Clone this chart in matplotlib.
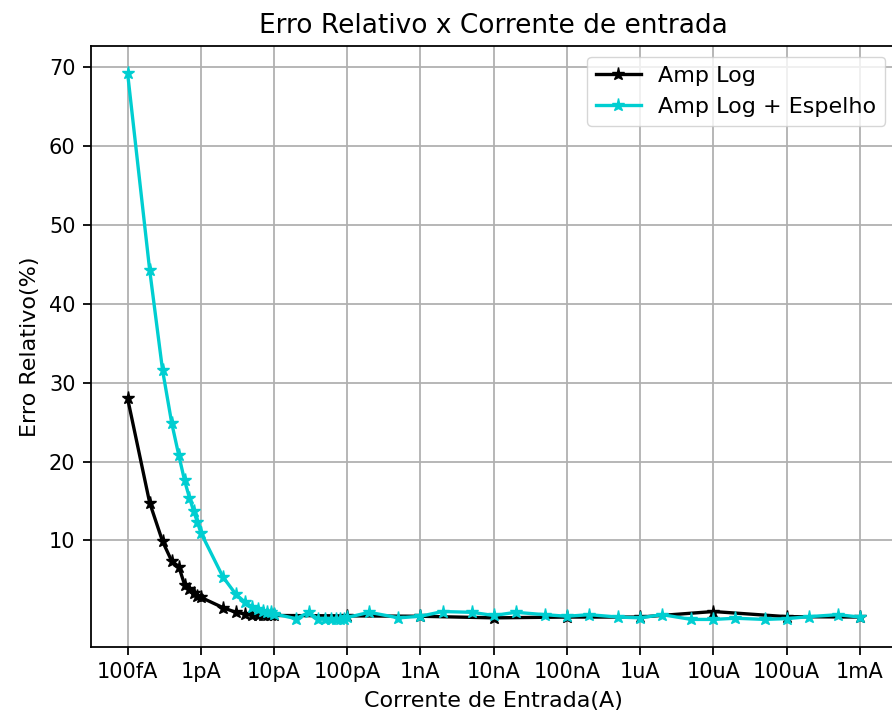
import matplotlib.pyplot as plt
from matplotlib.ticker import NullLocator

# correntes (A)
i_amp = [1e-13, 2e-13, 3e-13, 4e-13, 5e-13, 6e-13, 7e-13, 8e-13, 9e-13,
         1e-12, 2e-12, 3e-12, 4e-12, 5e-12, 6e-12, 7e-12, 8e-12, 9e-12,
         1e-11, 1e-10, 1e-9, 1e-8, 1e-7, 1e-6, 1e-5, 1e-4, 1e-3]
erro_amp = [28.0, 14.8, 9.9, 7.4, 6.7, 4.4, 3.8, 3.4, 3.0,
            2.8, 1.5, 0.9, 0.7, 0.6, 0.55, 0.5, 0.5, 0.5,
            0.5, 0.45, 0.4, 0.2, 0.3, 0.3, 1.0, 0.35, 0.3]

i_esp = [1e-13, 2e-13, 3e-13, 4e-13, 5e-13, 6e-13, 7e-13, 8e-13, 9e-13,
         1e-12, 2e-12, 3e-12, 4e-12, 5e-12, 6e-12, 7e-12, 8e-12, 9e-12,
         1e-11, 2e-11, 3e-11, 4e-11, 5e-11, 6e-11, 7e-11, 8e-11, 9e-11,
         1e-10, 2e-10, 5e-10, 1e-9, 2e-9, 5e-9, 1e-8, 2e-8, 5e-8,
         1e-7, 2e-7, 5e-7, 1e-6, 2e-6, 5e-6, 1e-5, 2e-5, 5e-5,
         1e-4, 2e-4, 5e-4, 1e-3]
erro_esp = [69.2, 44.3, 31.6, 24.9, 20.8, 17.6, 15.4, 13.7, 12.3,
            11.0, 5.4, 3.2, 2.2, 1.6, 1.3, 1.1, 1.0, 0.9,
            0.7, 0.1, 0.9, 0.05, 0.05, 0.0, 0.05, 0.05, 0.1,
            0.25, 0.9, 0.2, 0.4, 1.0, 0.9, 0.5, 0.9, 0.6,
            0.4, 0.6, 0.3, 0.2, 0.6, 0.0, 0.0, 0.15, 0.0,
            0.1, 0.35, 0.6, 0.3]

xticks = [1e-13, 1e-12, 1e-11, 1e-10, 1e-9, 1e-8, 1e-7, 1e-6, 1e-5, 1e-4, 1e-3]
xlabels = ['100fA', '1pA', '10pA', '100pA', '1nA', '10nA', '100nA', '1uA', '10uA', '100uA', '1mA']
yticks = [10, 20, 30, 40, 50, 60, 70]

# a figura original parece ampliada ~1.6x
s = 1.6
plt.rcParams['axes.linewidth'] = 0.8 * s
plt.rcParams['grid.linewidth'] = 0.8 * s
plt.rcParams['xtick.major.size'] = 3.5 * s
plt.rcParams['ytick.major.size'] = 3.5 * s
plt.rcParams['xtick.major.width'] = 0.8 * s
plt.rcParams['ytick.major.width'] = 0.8 * s
plt.rcParams['xtick.major.pad'] = 3.5 * s
plt.rcParams['ytick.major.pad'] = 3.5 * s
plt.rcParams['axes.titlepad'] = 6 * s
plt.rcParams['axes.labelpad'] = 4 * s

fig = plt.figure(figsize=(8.92, 7.17), dpi=100)
ax = fig.add_subplot(111)
fig.subplots_adjust(left=0.102, right=1.005, top=0.936, bottom=0.098)

ax.plot(i_amp, erro_amp, '*-', color='black', label='Amp Log', ms=6 * s, lw=1.5 * s)
ax.plot(i_esp, erro_esp, '*-', color='darkturquoise', label='Amp Log + Espelho', ms=6 * s, lw=1.5 * s)

ax.set_xscale('log')
ax.set_xticks(xticks)
ax.set_xticklabels(xlabels)
ax.xaxis.set_minor_locator(NullLocator())
ax.set_yticks(yticks)
ax.tick_params(labelsize=15)

ax.set_title('Erro Relativo x Corrente de entrada', fontsize=19)
ax.set_xlabel('Corrente de Entrada(A)', fontsize=16)
ax.set_ylabel('Erro Relativo(%)', fontsize=16)
ax.grid(True)
ax.legend(loc='upper right', fontsize=16)

fig.savefig('out.png', dpi=100)
